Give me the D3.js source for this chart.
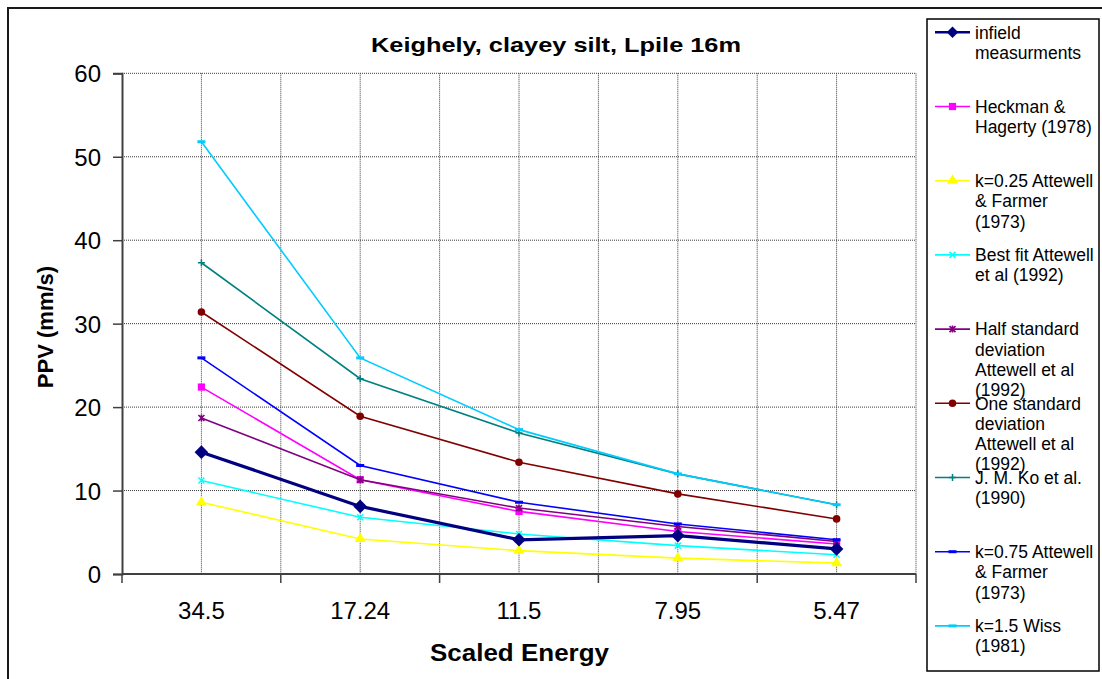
<!DOCTYPE html>
<html>
<head>
<meta charset="utf-8">
<script src="https://cdn.jsdelivr.net/npm/d3@7/dist/d3.min.js"></script>
<style>
  html, body { margin: 0; padding: 0; background: #fff; }
  svg { display: block; font-family: "Liberation Sans", Arial, sans-serif; }
</style>
</head>
<body>
<svg id="chart" width="1102" height="679"></svg>
<script>
// Scaled energy categories along the x axis
const categories = ["34.5", "17.24", "11.5", "7.95", "5.47"];
const yTicks = [0, 10, 20, 30, 40, 50, 60];

// PPV (mm/s) for each prediction / measurement series
const infield      = [14.6, 8.1, 4.1, 4.6, 3.0];
const heckman      = [22.4, 11.3, 7.5, 5.1, 3.6];
const attewell025  = [8.6, 4.2, 2.8, 1.9, 1.3];
const bestFit      = [11.2, 6.8, 4.8, 3.4, 2.3];
const halfStd      = [18.7, 11.3, 7.9, 5.7, 3.9];
const oneStd       = [31.4, 18.9, 13.4, 9.6, 6.6];
const koEtAl       = [37.3, 23.4, 16.9, 12.0, 8.3];
const attewell075  = [25.9, 13.0, 8.6, 6.0, 4.1];
const wiss         = [51.8, 25.9, 17.3, 12.0, 8.3];

const seriesNames = [
  ["infield", "measurments"],
  ["Heckman &", "Hagerty (1978)"],
  ["k=0.25 Attewell", "& Farmer", "(1973)"],
  ["Best fit Attewell", "et al (1992)"],
  ["Half standard", "deviation", "Attewell et al", "(1992)"],
  ["One standard", "deviation", "Attewell et al", "(1992)"],
  ["J. M. Ko et al.", "(1990)"],
  ["k=0.75 Attewell", "& Farmer", "(1973)"],
  ["k=1.5 Wiss", "(1981)"]
];
const seriesValues = [infield, heckman, attewell025, bestFit, halfStd, oneStd, koEtAl, attewell075, wiss];
const seriesColors = ["#000080", "#ff00ff", "#ffff00", "#00ffff", "#800080", "#800000", "#008080", "#0000ff", "#00ccff"];
const seriesMarkers = ["diamond", "square", "triangle", "xmark", "star", "circle", "plus", "dash", "dash"];

const svg = d3.select("#chart");

// Outer chart frame
svg.append("rect")
  .attr("x", 8).attr("y", 8).attr("width", 1100).attr("height", 690)
  .attr("fill", "#fff").attr("stroke", "#1a1a1a").attr("stroke-width", 2);

const plot = { left: 122, right: 916, top: 73.3, bottom: 574 };

const x = d3.scaleBand().domain(categories).range([plot.left, plot.right]).padding(0);
const y = d3.scaleLinear().domain([0, 60]).range([plot.bottom, plot.top]);
const cx = c => x(c) + x.bandwidth() / 2;

// Grid lines
const grid = svg.append("g").attr("stroke", "#3a3a3a").attr("stroke-width", 1).attr("stroke-dasharray", "1,1");
yTicks.filter(t => t > 0).forEach(t => {
  grid.append("line").attr("x1", plot.left).attr("x2", plot.right)
    .attr("y1", y(t)).attr("y2", y(t));
});
const vx = categories.map(c => x(c)).concat([plot.right]).concat(categories.map(cx)).filter(v => v > plot.left);
vx.forEach(v => {
  grid.append("line").attr("x1", v).attr("x2", v)
    .attr("y1", plot.top).attr("y2", plot.bottom);
});

// Y axis
const yAxis = svg.append("g")
  .attr("transform", `translate(${plot.left},0)`)
  .call(d3.axisLeft(y).tickValues(yTicks).tickSize(9).tickPadding(12).tickFormat(d3.format("d")));
yAxis.select(".domain").attr("stroke", "#404040").attr("stroke-width", 2);
yAxis.selectAll(".tick line").attr("stroke", "#404040").attr("stroke-width", 1.5);
yAxis.selectAll(".tick text").attr("font-size", 24).attr("fill", "#000")
  .attr("font-family", "Liberation Sans, Arial, sans-serif").attr("dy", "0.36em");

// X axis: ticks at category boundaries, labels at category centres
const xAxisG = svg.append("g").attr("transform", `translate(0,${plot.bottom})`);
xAxisG.append("line").attr("x1", plot.left).attr("x2", plot.right)
  .attr("stroke", "#404040").attr("stroke-width", 2);
categories.map(c => x(c)).concat([plot.right]).forEach(v => {
  xAxisG.append("line").attr("x1", v).attr("x2", v).attr("y1", 0).attr("y2", 9)
    .attr("stroke", "#404040").attr("stroke-width", 1.5);
});
categories.forEach(c => {
  xAxisG.append("text").attr("x", cx(c)).attr("y", 45)
    .attr("text-anchor", "middle").attr("font-size", 24).attr("fill", "#000").text(c);
});

// Titles
svg.append("text").attr("x", 556).attr("y", 52).attr("text-anchor", "middle")
  .attr("font-size", 21).attr("font-weight", "bold")
  .attr("textLength", 370).attr("lengthAdjust", "spacingAndGlyphs")
  .text("Keighely, clayey silt, Lpile 16m");
svg.append("text").attr("x", 519.5).attr("y", 661).attr("text-anchor", "middle")
  .attr("font-size", 23).attr("font-weight", "bold")
  .attr("textLength", 179).attr("lengthAdjust", "spacingAndGlyphs")
  .text("Scaled Energy");
svg.append("text").attr("transform", "translate(53,327) rotate(-90)").attr("text-anchor", "middle")
  .attr("font-size", 22).attr("font-weight", "bold")
  .text("PPV (mm/s)");

// Marker drawing
function drawMarker(g, type, color, px, py, scale) {
  const s = scale || 1;
  switch (type) {
    case "diamond": {
      const r = 6.8 * s;
      g.append("path").attr("d", `M0,${-r}L${r},0L0,${r}L${-r},0Z`)
        .attr("transform", `translate(${px},${py})`).attr("fill", color);
      break;
    }
    case "square":
      g.append("path").attr("d", d3.symbol().type(d3.symbolSquare).size(52 * s)())
        .attr("transform", `translate(${px},${py})`).attr("fill", color);
      break;
    case "triangle":
      g.append("path").attr("d", d3.symbol().type(d3.symbolTriangle).size(52 * s)())
        .attr("transform", `translate(${px},${py})`).attr("fill", color);
      break;
    case "circle":
      g.append("circle").attr("cx", px).attr("cy", py).attr("r", 3.8 * s).attr("fill", color);
      break;
    case "xmark":
      g.append("path").attr("d", "M-3,-3L3,3M-3,3L3,-3")
        .attr("transform", `translate(${px},${py})`).attr("stroke", color).attr("stroke-width", 1.5).attr("fill", "none");
      break;
    case "star":
      g.append("path").attr("d", "M-3,-3L3,3M-3,3L3,-3M0,-3.5L0,3.5")
        .attr("transform", `translate(${px},${py})`).attr("stroke", color).attr("stroke-width", 1.6).attr("fill", "none");
      break;
    case "plus":
      g.append("path").attr("d", "M-3.5,0L3.5,0M0,-3.5L0,3.5")
        .attr("transform", `translate(${px},${py})`).attr("stroke", color).attr("stroke-width", 1.5).attr("fill", "none");
      break;
    case "dash":
      g.append("rect").attr("x", px - 4).attr("y", py - 1.5).attr("width", 8).attr("height", 3).attr("fill", color);
      break;
  }
}

// Series lines and markers (draw the measurements last so they sit on top)
const order = [2, 3, 1, 4, 7, 5, 6, 8, 0];
const line = d3.line().x(d => cx(d.c)).y(d => y(d.v));
order.forEach(i => {
  const pts = categories.map((c, j) => ({ c: c, v: seriesValues[i][j] }));
  const g = svg.append("g");
  g.append("path").datum(pts).attr("d", line)
    .attr("fill", "none").attr("stroke", seriesColors[i])
    .attr("stroke-width", i === 0 ? 3.2 : 1.6);
  pts.forEach(p => drawMarker(g, seriesMarkers[i], seriesColors[i], cx(p.c), y(p.v)));
});

// Legend
const legend = svg.append("g");
legend.append("rect").attr("x", 927).attr("y", 19).attr("width", 172).attr("height", 652)
  .attr("fill", "#fff").attr("stroke", "#000").attr("stroke-width", 1.5);
seriesNames.forEach((lines, i) => {
  const ly = 32.3 + i * 74.2;
  const g = legend.append("g");
  g.append("line").attr("x1", 935).attr("x2", 970).attr("y1", ly).attr("y2", ly)
    .attr("stroke", seriesColors[i]).attr("stroke-width", i === 0 ? 2.5 : 1.6);
  drawMarker(g, seriesMarkers[i], seriesColors[i], 952.5, ly, i === 0 ? 0.85 : 1);
  const t = g.append("text").attr("x", 975).attr("y", ly + 6.2)
    .attr("font-size", 17.5).attr("fill", "#000");
  lines.forEach((s, k) => {
    t.append("tspan").attr("x", 975).attr("dy", k === 0 ? 0 : 20.3).text(s);
  });
});
</script>
</body>
</html>
